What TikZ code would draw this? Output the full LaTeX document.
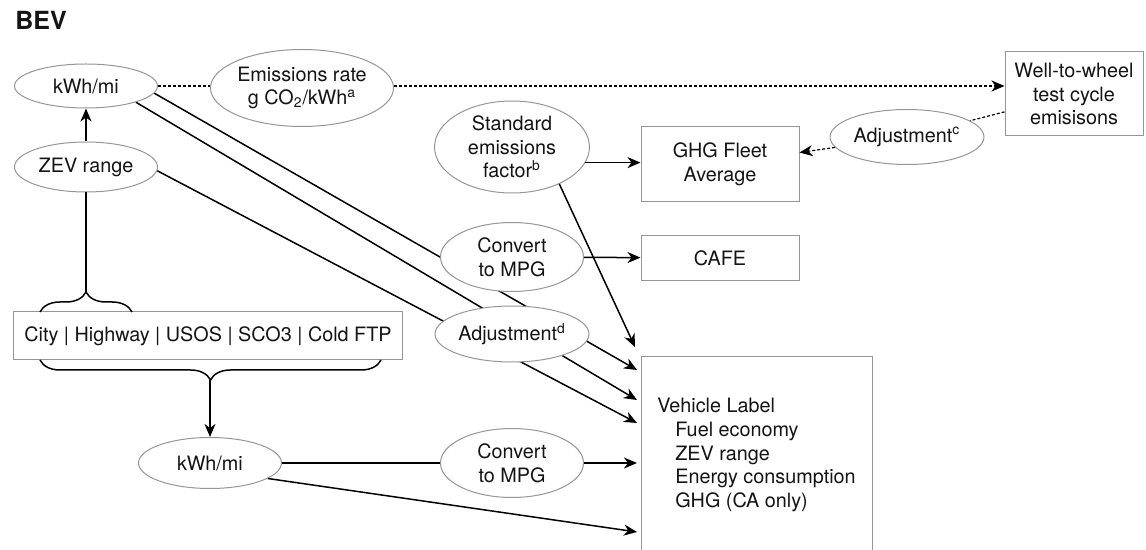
\documentclass[tikz,border=0pt]{standalone}
\usepackage{fontspec}
\setmainfont{TeX Gyre Heros}
\usepackage{xcolor}
\usetikzlibrary{shapes,arrows.meta,positioning,backgrounds,decorations.pathreplacing}
\definecolor{edgegray}{RGB}{150,150,150}
\definecolor{inkblack}{RGB}{20,20,20}

\begin{document}
\begin{tikzpicture}[x=0.5pt, y=-0.5pt, >={Stealth[length=6.5pt,width=5.5pt,inset=2pt]},
		every node/.style={font=\fontsize{9.9}{11.8}\selectfont, text=inkblack, align=center, inner sep=0pt},
		oval/.style={draw=edgegray, line width=0.5pt, ellipse, fill=white},
		box/.style={draw=edgegray, line width=0.5pt, rectangle, fill=white},
		link/.style={draw=black, line width=0.75pt},
		dots/.style={line width=0.6pt, dash pattern=on 1.5pt off 1pt},
		curly/.style={line width=0.75pt, decorate, decoration={brace, amplitude=10pt}}]
	\useasboundingbox (0,0) rectangle (1146,550);
	\clip (0,0) rectangle (1146,550);
	\node[font=\fontsize{12.5}{14}\selectfont\bfseries, anchor=base west] (title) at (15,30) {BEV};
	% left column
	\node[oval, minimum width=71.5pt, minimum height=22pt] (kwhTop) at (86,86) {kWh/mi};
	\node[oval, minimum width=71.5pt, minimum height=25pt] (zev) at (86,167) {ZEV range};
	\node[box, minimum width=194.5pt, minimum height=24pt] (cycles) at (208,336) {City | Highway | USOS | SCO3 | Cold FTP};
	\node[oval, minimum width=71.5pt, minimum height=25.5pt] (kwhLow) at (210,463) {kWh/mi};
	% middle
	\node[oval, minimum width=91.5pt, minimum height=38.5pt] (emis) at (302,88) {Emissions rate\\g CO\textsubscript{2}/kWh\textsuperscript{a}};
	\node[oval, minimum width=77.5pt, minimum height=46pt] (std) at (512,147) {Standard\\emissions\\factor\textsuperscript{b}};
	\node[oval, minimum width=71.5pt, minimum height=34.5pt] (convTop) at (512,257) {Convert\\to MPG};
	\node[oval, minimum width=77pt, minimum height=28pt] (adjd) at (512,334) {Adjustment\textsuperscript{d}};
	\node[oval, minimum width=71.5pt, minimum height=34.5pt] (convLow) at (512,463) {Convert\\to MPG};
	% right
	\node[box, minimum width=79pt, minimum height=37.5pt] (ghg) at (720,164) {GHG Fleet\\Average};
	\node[box, minimum width=79pt, minimum height=22.5pt] (cafe) at (720,258) {CAFE};
	\node[oval, minimum width=77pt, minimum height=27.5pt] (adjc) at (907,137) {Adjustment\textsuperscript{c}};
	\node[box, minimum width=69pt, minimum height=42pt] (wtw) at (1074,94) {Well-to-wheel\\test cycle\\emisisons};
	\node[box, minimum width=115.5pt, minimum height=98pt, align=left] (label) at (756.5,455) {Vehicle Label\\\hspace*{9pt}Fuel economy\\\hspace*{9pt}ZEV range\\\hspace*{9pt}Energy consumption\\\hspace*{9pt}GHG (CA only)};
	% brace tips and arrow ends
	\coordinate (tipTop) at (86,292);
	\coordinate (tipBot) at (210,380);
	\coordinate (inStd) at (635,347);
	\coordinate (inA) at (637,370);
	\coordinate (inB) at (637,400);
	\coordinate (inC) at (637,423);
	\coordinate (inMid) at (637,463);
	\coordinate (inLow) at (637,532);
	\draw[curly] (40,312) -- (132,312);
	\draw[curly] (381,360) -- (40,360);
	\draw[link] (tipTop) -- (zev);
	\draw[link, ->] (zev) -- (kwhTop);
	\draw[link, ->] (tipBot) -- (kwhLow);
	\draw[dots] (kwhTop) -- (kwhTop -| emis.west);
	\draw[dots, ->] (emis.east |- kwhTop) -- (wtw.west |- kwhTop);
	\draw[dots] (wtw) -- (adjc);
	\draw[dots, ->] (adjc) -- (ghg);
	\draw[link, ->] (std.-12) -- (std.-12 -| ghg.west);
	\draw[link, ->] (std.-38) -- (inStd);
	\draw[link, ->] (convTop) -- (cafe);
	\draw[link] (kwhLow) -- (convLow);
	\draw[link, ->] (convLow) -- (inMid);
	\draw[link, ->] (kwhLow.-15) -- (inLow);
	\begin{scope}[on background layer]
		\draw[link, ->] (kwhTop.-6) -- (inA);
		\draw[link, ->] (kwhTop.-18) -- (inB);
		\draw[link, ->] (zev.-3) -- (inC);
	\end{scope}
\end{tikzpicture}
\end{document}
